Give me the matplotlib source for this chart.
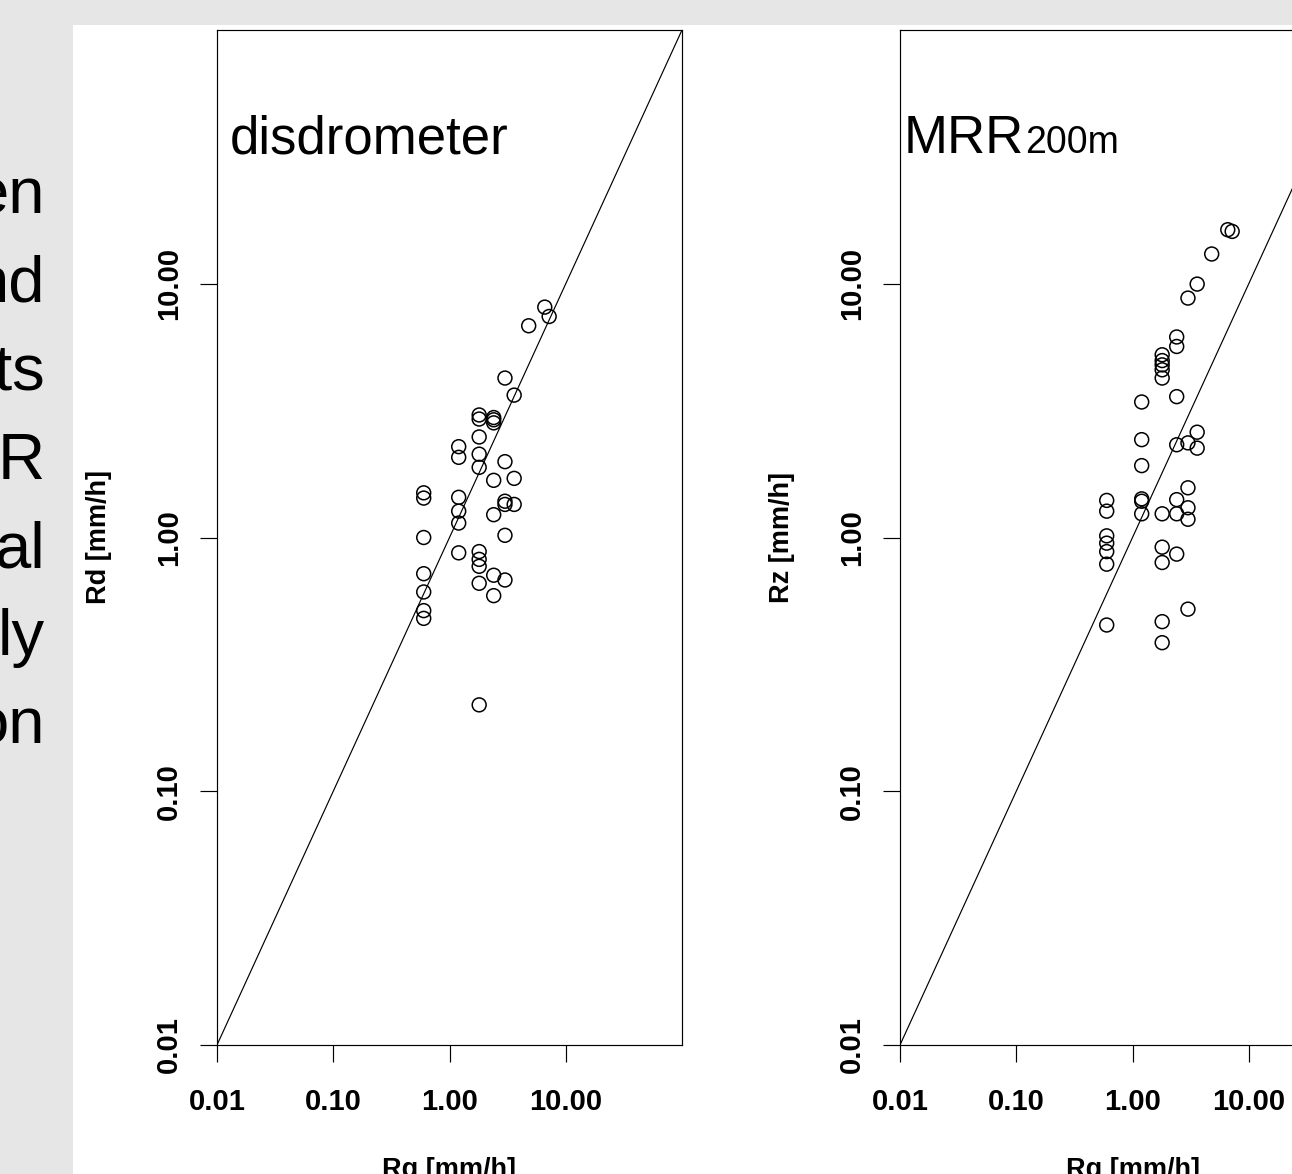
import matplotlib
matplotlib.use("Agg")
import matplotlib.pyplot as plt
from matplotlib.patches import Rectangle
from matplotlib.ticker import NullLocator, FixedLocator, FixedFormatter

# ---------------- data ----------------
# left panel: gauge rain rate (Rg) vs disdrometer rain rate (Rd), mm/h
rg_disdro = [6.6, 7.2, 4.8, 3.0, 3.6, 1.8, 1.8, 2.4, 2.4, 2.4, 1.8, 1.2, 1.2, 1.8,
             1.8, 3.0, 2.4, 3.6, 0.6, 0.6, 1.2, 3.0, 3.0, 3.6, 1.2, 2.4, 1.2, 0.6,
             3.0, 1.2, 1.8, 1.8, 1.8, 0.6, 2.4, 3.0, 1.8, 0.6, 2.4, 0.6, 0.6, 1.8]
rd = [8.09, 7.43, 6.83, 4.25, 3.64, 3.04, 2.93, 2.97, 2.91, 2.83, 2.49, 2.28, 2.07, 2.13,
      1.89, 1.99, 1.68, 1.71, 1.50, 1.43, 1.44, 1.39, 1.35, 1.35, 1.27, 1.23, 1.14, 1.00,
      1.02, 0.87, 0.88, 0.82, 0.77, 0.72, 0.71, 0.68, 0.66, 0.61, 0.59, 0.515, 0.48, 0.219]

# right panel: gauge rain rate (Rg) vs MRR 200 m rain rate (Rz), mm/h
rg_mrr = [6.6, 7.2, 4.8, 3.6, 3.0, 2.4, 2.4, 1.8, 1.8, 1.8, 1.8, 1.8, 2.4, 1.2,
          1.2, 3.6, 2.4, 3.0, 3.6, 1.2, 3.0, 0.6, 1.2, 1.2, 2.4, 0.6, 1.2, 1.8,
          2.4, 3.0, 3.0, 0.6, 0.6, 0.6, 0.6, 1.8, 1.8, 2.4, 3.0, 0.6, 1.8, 1.8]
rz = [16.33, 16.08, 13.1, 9.97, 8.78, 6.17, 5.66, 5.25, 4.98, 4.79, 4.58, 4.25, 3.59, 3.42,
      2.43, 2.60, 2.32, 2.36, 2.25, 1.92, 1.57, 1.40, 1.42, 1.39, 1.41, 1.27, 1.24, 1.24,
      1.24, 1.31, 1.18, 1.015, 0.95, 0.88, 0.785, 0.916, 0.797, 0.86, 0.522, 0.452, 0.466, 0.385]

axis_ticks = [0.01, 0.1, 1, 10]
axis_tick_labels = ["0.01", "0.10", "1.00", "10.00"]
axis_limits = [0.01, 100]
one_to_one = [0.01, 100]

side_words = ["en", "nd", "ts", "R", "al", "ly", "on"]

# ---------------- figure ----------------
plt.rcParams['font.family'] = ['Liberation Sans', 'DejaVu Sans']

W, H = 1292, 1174
fig = plt.figure(figsize=(W / 100, H / 100), dpi=100, facecolor='#e6e6e6')


def fx(px):
    return px / W


def fy(py):
    return 1 - py / H


fig.add_artist(Rectangle((fx(73), 0), 1 - fx(73), fy(25), transform=fig.transFigure,
                         facecolor='white', edgecolor='none', zorder=-5))

# slide text cut off at the left edge (as in the original slide)
for i, w in enumerate(side_words):
    fig.text(fx(45), fy(213 + 88.5 * i), w, ha='right', va='baseline',
             fontsize=47, color='black', family=['Liberation Sans', 'DejaVu Sans'])


def make_panel(left_px, xs, ys, ylabel):
    ax = fig.add_axes([fx(left_px), fy(1045), 465 / W, (1045 - 30) / H])
    ax.set_facecolor('white')
    ax.set_xscale('log')
    ax.set_yscale('log')
    ax.set_xlim(axis_limits)
    ax.set_ylim(axis_limits)
    ax.plot(one_to_one, one_to_one, color='black', lw=0.85)
    ax.scatter(xs, ys, s=100, facecolors='none', edgecolors='black', linewidths=1.1)
    for a in (ax.xaxis, ax.yaxis):
        a.set_major_locator(FixedLocator(axis_ticks))
        a.set_major_formatter(FixedFormatter(axis_tick_labels))
        a.set_minor_locator(NullLocator())
    for s in ax.spines.values():
        s.set_linewidth(0.85)
    ax.tick_params(axis='both', which='major', direction='out', length=12.5,
                   width=0.85, labelsize=21)
    ax.tick_params(axis='x', pad=18.5)
    ax.tick_params(axis='y', pad=12, labelrotation=90)
    for lab in ax.get_xticklabels() + ax.get_yticklabels():
        lab.set_fontweight('bold')
    for lab in ax.get_yticklabels():
        lab.set_verticalalignment('center')
    # axis titles
    cx = left_px + 465 / 2
    fig.text(fx(cx), fy(1177), "Rg [mm/h]", ha='center', va='baseline',
             fontsize=19.5, fontweight='bold')
    fig.text(fx(left_px - 111), fy(537.5), ylabel, ha='center', va='baseline',
             rotation=90, rotation_mode='anchor', fontsize=19.5, fontweight='bold')
    return ax


ax1 = make_panel(217, rg_disdro, rd, "Rd [mm/h]")
ax2 = make_panel(900, rg_mrr, rz, "Rz [mm/h]")

fig.text(fx(230), fy(153), "disdrometer", ha='left', va='baseline', fontsize=38)
fig.text(fx(904), fy(153), "MRR", ha='left', va='baseline', fontsize=38)
fig.text(fx(1025), fy(153), "200m", ha='left', va='baseline', fontsize=27)

fig.savefig("out.png", dpi=100, facecolor=fig.get_facecolor())
